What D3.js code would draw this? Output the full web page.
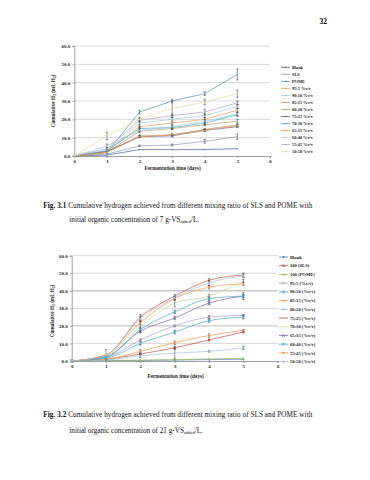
<!DOCTYPE html>
<html><head><meta charset="utf-8">
<script src="https://cdn.jsdelivr.net/npm/d3@7"></script>
<style>
body{margin:0;background:#fff;}
svg{display:block;}
</style></head>
<body>
<svg id="page" width="370" height="480"></svg>
<script>
const days = [0,1,2,3,4,5];
const xTicks = [0,1,2,3,4,5,6];
const yTicks = [0,10,20,30,40,50,60];

// Figure 3.1
const labels1 = ["Blank","SLS","POME","95:5 %v/v","90:10 %v/v","85:15 %v/v","80:20 %v/v","75:25 %v/v","70:30 %v/v","65:35 %v/v","60:40 %v/v","55:45 %v/v","50:50 %v/v"];
const colors1 = ["#4a5e8c","#8a9ab0","#5b93a8","#e8a060","#9cc8dc","#b89070","#b0a070","#5a5a90","#40b0c8","#f0a050","#a8c8e0","#b0a0c0","#e4dca0"];
const values1 = [
 [0,0.5,3.5,3.5,3.5,4],
 [0,1,5.5,6,8,10.5],
 [0,2,24,30,34,44.5],
 [0,2.5,16,18,20,25],
 [0,2.5,18,20,22,27],
 [0,2,11,11.5,14.5,17],
 [0,2,13.5,15,17,19],
 [0,2.5,10.5,11,14,16],
 [0,3,15,15.5,18,22.5],
 [0,2,10.5,11.5,14,16.5],
 [0,5.5,14,16,19,23],
 [0,4,19.5,22,24,29],
 [0,11,20,26,29.5,34]
];
const errors1 = [
 [0,0,0,0,0,0],
 [0,0,0.5,0.5,1,1.5],
 [0,0.5,1,1,1,3],
 [0,0,0.5,0.5,1,1],
 [0,0,1,1,1,1],
 [0,0,0.5,0.5,0.5,0.5],
 [0,0,0.5,0.5,0.5,1],
 [0,0,0.5,0.5,0.5,0.5],
 [0,0,1,1,1,1],
 [0,0,0.5,0.5,0.5,0.5],
 [0,1,1,1,1,1],
 [0,0.5,1,1,1.5,1],
 [0,2,1,4,1.5,2]
];

// Figure 3.2
const labels2 = ["Blank","100 (SLS)","100 (POME)","95:5 (%v/v)","90:10 (%v/v)","85:15 (%v/v)","80:20 (%v/v)","75:25 (%v/v)","70:30 (%v/v)","65:35 (%v/v)","60:40 (%v/v)","55:45 (%v/v)","50:50 (%v/v)"];
const colors2 = ["#4f81bd","#c0504d","#9bbb59","#a99bc4","#4bacc6","#f79646","#a7c0de","#c0504d","#c3d69b","#8064a2","#4bacc6","#f79646","#a7c0de"];
const markers2 = ["diamond","square","triangle","cross","star","circle","plus","none","none","cross","star","circle","plus"];
const values2 = [
 [0,0.3,0.3,0.5,0.8,1.0],
 [0,1,4,7.5,12,16.5],
 [0,0.3,0.5,0.8,1.2,1.5],
 [0,2,12,20,25,26],
 [0,1.5,10,16.5,23,25],
 [0,1,5.5,10.5,14.5,17.5],
 [0,0.5,3,4.5,5.5,7.5],
 [0,3.5,25,37,46,49],
 [0,3,19.5,33,37,45.5],
 [0,2.5,17,24.5,33,37],
 [0,2,18,28,35.5,37],
 [0,3.5,22,35.5,42,44],
 [0,3.5,24,36,44.5,48.5]
];
const errors2 = [
 [0,0,0,0,0,0],
 [0,0,0.5,1,0.5,0.5],
 [0,0,0,0,0,0],
 [0,0,0.5,0.5,1,0.5],
 [0,0,1,1,1,1],
 [0,0,1,1,1,0.5],
 [0,0,1,3,0.5,1],
 [0,3,1.5,1,1,1],
 [0,0,3,2,1,1],
 [0,0,1,1,1,1],
 [0,0,1,1,1,2],
 [0,0,1,1,1,1],
 [0,0,1.5,1,1.5,1]
];

const svg = d3.select("#page");
const serif = "'Liberation Serif','Times New Roman',serif";

// page number
svg.append("text").attr("x",327).attr("y",24).attr("text-anchor","end")
  .attr("font-family",serif).attr("font-size",7.5).attr("font-weight","bold").text("32");

function drawChart(cfg){
  const g = svg.append("g");
  const x = d3.scaleLinear().domain([0,6]).range(cfg.xr);
  const y = d3.scaleLinear().domain([0,60]).range(cfg.yr);
  // grid
  g.selectAll(".grid").data(yTicks.filter(d=>d>0)).join("line")
    .attr("x1",x(0)).attr("x2",x(6)).attr("y1",d=>y(d)).attr("y2",d=>y(d))
    .attr("stroke","#c8c8c8").attr("stroke-width",d=>cfg.thick && (d===20||d===40)?1.4:0.7);
  // axes
  const ay = g.append("g").attr("transform",`translate(${x(0)},0)`)
    .call(d3.axisLeft(y).tickValues(yTicks).tickSize(2).tickFormat(d3.format(".1f")));
  const ax = g.append("g").attr("transform",`translate(0,${y(0)})`)
    .call(d3.axisBottom(x).tickValues(xTicks).tickSize(2).tickFormat(d3.format("d")));
  [ax,ay].forEach(a=>{
    a.select(".domain").attr("stroke","#777").attr("stroke-width",0.7);
    a.selectAll(".tick line").attr("stroke","#777").attr("stroke-width",0.6);
    a.selectAll("text").attr("font-family",serif).attr("font-size",5).attr("font-weight","bold").attr("fill","#222");
  });
  ay.selectAll("text").attr("x",-4);
  ax.selectAll("text").attr("y",3);
  // titles
  g.append("text").attr("x",cfg.xtx).attr("y",cfg.xty).attr("text-anchor","middle")
    .attr("font-family",serif).attr("font-size",5.2).attr("font-weight","bold").attr("fill","#222").text(cfg.xtitle);
  const yt = g.append("text").attr("transform",`translate(${cfg.ytx},${cfg.yty}) rotate(-90)`)
    .attr("text-anchor","middle").attr("font-family",serif).attr("font-size",5.2).attr("font-weight","bold").attr("fill","#222");
  yt.append("tspan").text("Cumulative H");
  yt.append("tspan").attr("font-size",3.8).attr("dy",1).text("2");
  yt.append("tspan").attr("dy",-1).text(" (mL H");
  yt.append("tspan").attr("font-size",3.8).attr("dy",1).text("2");
  yt.append("tspan").attr("dy",-1).text(")");

  const line = d3.line().x((d,i)=>x(days[i])).y(d=>y(d)).curve(cfg.curve);
  cfg.values.forEach((vals,s)=>{
    const col = cfg.colors[s];
    g.append("path").datum(vals).attr("d",line).attr("fill","none")
      .attr("stroke",col).attr("stroke-width",0.7);
    // error bars
    vals.forEach((v,i)=>{
      const e = cfg.errors[s][i];
      if(e>0){
        const xx=x(days[i]);
        g.append("line").attr("x1",xx).attr("x2",xx).attr("y1",y(v-e)).attr("y2",y(v+e)).attr("stroke","#333").attr("stroke-width",0.5);
        [v-e,v+e].forEach(b=>g.append("line").attr("x1",xx-1.2).attr("x2",xx+1.2).attr("y1",y(b)).attr("y2",y(b)).attr("stroke","#333").attr("stroke-width",0.5));
      }
      marker(g, x(days[i]), y(v), cfg.markers ? cfg.markers[s] : "dot", col, cfg.msize);
    });
  });
  // legend
  cfg.labels.forEach((lab,s)=>{
    const ly = cfg.ly0 + s*cfg.ldy;
    g.append("line").attr("x1",cfg.lx).attr("x2",cfg.lx+9).attr("y1",ly).attr("y2",ly)
      .attr("stroke",cfg.colors[s]).attr("stroke-width",0.8);
    marker(g, cfg.lx+4.5, ly, cfg.markers ? cfg.markers[s] : "dot", cfg.colors[s], cfg.msize);
    g.append("text").attr("x",cfg.lx+11).attr("y",ly).attr("dy","0.35em")
      .attr("font-family",serif).attr("font-size",cfg.lfs).attr("font-weight","bold").attr("fill","#222").text(lab);
  });
}

function marker(g,cx,cy,type,col,r){
  if(type==="none") return;
  if(type==="dot"){ g.append("circle").attr("cx",cx).attr("cy",cy).attr("r",0.7).attr("fill",col); return; }
  if(type==="diamond"){ g.append("path").attr("d",`M${cx},${cy-r}L${cx+r},${cy}L${cx},${cy+r}L${cx-r},${cy}Z`).attr("fill",col); return; }
  if(type==="square"){ g.append("rect").attr("x",cx-r*0.8).attr("y",cy-r*0.8).attr("width",r*1.6).attr("height",r*1.6).attr("fill",col); return; }
  if(type==="triangle"){ g.append("path").attr("d",`M${cx},${cy-r}L${cx+r},${cy+r*0.8}L${cx-r},${cy+r*0.8}Z`).attr("fill",col); return; }
  if(type==="circle"){ g.append("circle").attr("cx",cx).attr("cy",cy).attr("r",r*0.85).attr("fill",col); return; }
  if(type==="cross"){ g.append("path").attr("d",`M${cx-r},${cy-r}L${cx+r},${cy+r}M${cx-r},${cy+r}L${cx+r},${cy-r}`).attr("stroke",col).attr("stroke-width",0.8); return; }
  if(type==="plus"){ g.append("path").attr("d",`M${cx-r},${cy}L${cx+r},${cy}M${cx},${cy-r}L${cx},${cy+r}`).attr("stroke",col).attr("stroke-width",0.8); return; }
  if(type==="star"){ g.append("path").attr("d",`M${cx-r},${cy-r}L${cx+r},${cy+r}M${cx-r},${cy+r}L${cx+r},${cy-r}M${cx},${cy-r}L${cx},${cy+r}`).attr("stroke",col).attr("stroke-width",0.8); return; }
}

drawChart({xr:[74.3,270], yr:[156,46], values:values1, errors:errors1, colors:colors1, labels:labels1,
  curve:d3.curveLinear, markers:null, msize:1.2,
  xtitle:"Fermentation  time (days)", xtx:172.7, xty:169.5, ytx:55, yty:101,
  lx:281, ly0:67.3, ldy:7.03, lfs:4.3, thick:false});

drawChart({xr:[71.7,277.7], yr:[361,255.7], values:values2, errors:errors2, colors:colors2, labels:labels2,
  curve:d3.curveMonotoneX, markers:markers2, msize:1.3,
  xtitle:"Fermentation time (days)", xtx:175.7, xty:377.5, ytx:54, yty:311,
  lx:279, ly0:257, ldy:8.72, lfs:4.6, thick:true});

// captions
function caption(y1,y2,num,conc){
  const t = svg.append("text").attr("x",43.3).attr("y",y1).attr("font-family",serif).attr("font-size",7.2).attr("fill","#111")
    .attr("textLength",269).attr("lengthAdjust","spacing");
  t.append("tspan").attr("font-weight","bold").text(num);
  t.append("tspan").text(" Cumulative hydrogen achieved from different mixing ratio of SLS and POME with");
  const t2 = svg.append("text").attr("x",69.3).attr("y",y2).attr("font-family",serif).attr("font-size",7.2).attr("fill","#111");
  t2.append("tspan").text(`initial organic concentration of ${conc} g-VS`);
  t2.append("tspan").attr("font-size",4.5).attr("dy",1.5).text("added");
  t2.append("tspan").attr("dy",-1.5).text("/L.");
}
caption(208,221.5,"Fig. 3.1","7");
caption(416.5,432.5,"Fig. 3.2","21");
</script>
</body></html>
